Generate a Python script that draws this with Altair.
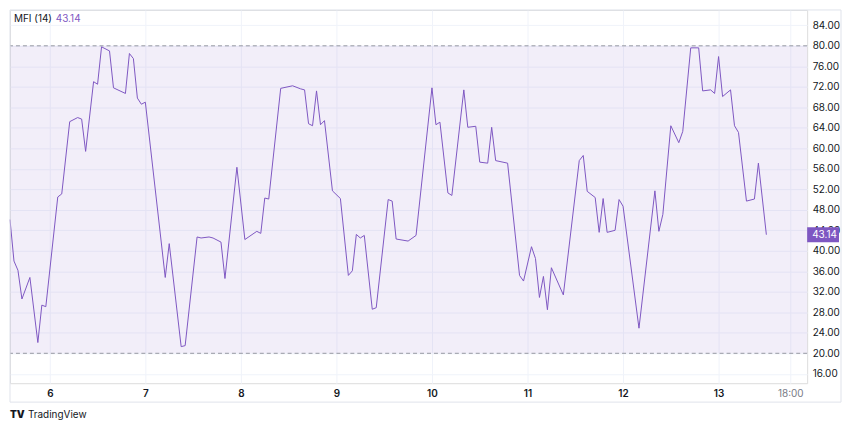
import altair as alt
import pandas as pd

# Hours since day 6 00:00 (hourly bars), and MFI(14) values
hours = [-10, -9, -8, -7, -5, -3, -2, -1, 2, 3, 5, 7, 8, 9, 11, 12, 13, 15, 16, 19,
         20, 21, 22, 23, 24, 29, 30, 33, 34, 37, 38, 40, 41, 43, 44, 47, 49, 52, 53, 54,
         55, 58, 61, 63, 64, 65, 66, 67, 68, 69, 71, 73, 75, 76, 77, 78, 79, 81, 82, 85,
         86, 87, 90, 92, 96, 97, 98, 100, 101, 104, 105, 107, 108, 110, 111, 112, 115, 118, 119, 121,
         122, 123, 124, 125, 126, 129, 133, 134, 135, 137, 138, 139, 140, 142, 143, 144, 148, 152, 153, 154,
         156, 158, 159, 161, 163, 164, 166, 167, 168, 169, 171, 172, 173, 175, 177, 178, 180]
mfi = [46.1, 38.0, 36.2, 30.6, 34.8, 22.1, 29.4, 29.1, 50.5, 51.1, 65.2, 66.0, 65.7, 59.4, 73.0, 72.5, 79.8, 79.0, 71.8, 70.7,
       78.5, 77.5, 69.8, 68.6, 69.0, 34.8, 41.4, 21.3, 21.5, 42.7, 42.5, 42.7, 42.5, 41.7, 34.6, 56.3, 42.2, 43.8, 43.4, 50.3,
       50.1, 71.7, 72.2, 71.6, 71.4, 64.8, 64.4, 71.2, 64.6, 65.4, 51.7, 50.2, 35.2, 36.1, 43.2, 42.5, 43.0, 28.6, 28.9, 50.0,
       49.7, 42.3, 41.9, 43.0, 71.8, 64.6, 65.1, 51.3, 50.8, 71.4, 64.1, 64.3, 57.3, 57.1, 64.1, 57.6, 57.1, 35.2, 34.1, 40.8,
       38.5, 30.9, 35.0, 28.5, 36.7, 31.4, 57.6, 58.6, 51.6, 50.4, 43.6, 50.2, 43.6, 44.0, 50.0, 48.7, 24.9, 51.7, 43.8, 47.1,
       64.4, 61.1, 63.3, 79.6, 79.6, 71.2, 71.4, 70.7, 77.9, 70.1, 71.4, 64.4, 63.1, 49.7, 50.1, 57.1, 43.14]

x_ticks = [0, 24, 48, 72, 96, 120, 144, 168, 186]
y_ticks = [16, 20, 24, 28, 32, 36, 40, 44, 48, 52, 56, 60, 64, 68, 72, 76, 80, 84]
band = [20, 80]
x_domain = [-10, 190.25]
y_domain = [14.17, 86.99]

FONT = "Inter"
PURPLE = "#7e57c2"
GRID = "#f0f3fa"
W, H = 801, 375

df = pd.DataFrame({"h": hours, "mfi": mfi})
last = pd.DataFrame({"h": [hours[-1]], "mfi": [mfi[-1]],
                     "lo": [mfi[-1] - 1.45], "hi": [mfi[-1] + 1.45]})
levels = pd.DataFrame({"level": band})
band_df = pd.DataFrame({"x0": [x_domain[0]], "x1": [x_domain[1]], "lo": [band[0]], "hi": [band[1]]})

xscale = alt.Scale(domain=x_domain, nice=False, zero=False)
yscale = alt.Scale(domain=y_domain, nice=False, zero=False)

xaxis = alt.Axis(
    values=x_ticks, title=None, grid=True, gridColor=GRID, gridWidth=1,
    domain=False, ticks=False, tickSize=0, labelPadding=5, labelOverlap=False,
    labelExpr="datum.value == 186 ? '18:00' : toString(6 + datum.value / 24)",
    labelColor=alt.ExprRef(expr="datum.value == 186 ? '#787b86' : '#131722'"),
    labelFontWeight=alt.ExprRef(expr="datum.value == 186 ? 400 : 600"),
    labelFont=FONT, labelFontSize=10,
)
yaxis = alt.Axis(
    values=y_ticks, orient="right", format=".2f", title=None, grid=True,
    gridColor=GRID, gridWidth=1, domain=False, ticks=False, tickSize=0,
    labelPadding=5, labelOverlap=False, labelColor="#131722", labelFont=FONT,
    labelFontSize=10, labelBound=False,
)

band_rect = alt.Chart(band_df).mark_rect(color=PURPLE, opacity=0.1).encode(
    x=alt.X("x0:Q", scale=xscale, axis=xaxis),
    x2="x1:Q",
    y=alt.Y("lo:Q", scale=yscale, axis=yaxis),
    y2="hi:Q",
)

dashed = alt.Chart(levels).mark_rule(color="#9598a1", strokeDash=[4, 3], strokeWidth=1).encode(
    y=alt.Y("level:Q", scale=yscale, axis=yaxis)
)

line = alt.Chart(df).mark_line(color=PURPLE, strokeWidth=1).encode(
    x=alt.X("h:Q", scale=xscale, axis=xaxis),
    y=alt.Y("mfi:Q", scale=yscale, axis=yaxis),
)

badge = alt.Chart(last).mark_rect(color=PURPLE).encode(
    y=alt.Y("lo:Q", scale=yscale, axis=yaxis), y2="hi:Q",
    x=alt.value(W), x2=alt.value(W + 32),
)
badge_text = alt.Chart(last).mark_text(
    color="white", align="left", baseline="middle", font=FONT, fontSize=10
).encode(
    y=alt.Y("mfi:Q", scale=yscale, axis=yaxis), x=alt.value(W + 5),
    text=alt.Text("mfi:Q", format=".2f"),
)

title_a = alt.Chart(last).mark_text(
    color="#131722", align="left", baseline="middle", font=FONT, fontSize=10
).encode(x=alt.value(4), y=alt.value(9), text=alt.value("MFI (14)"))
title_b = alt.Chart(last).mark_text(
    color=PURPLE, align="left", baseline="middle", font=FONT, fontSize=10
).encode(x=alt.value(46), y=alt.value(9), text=alt.Text("mfi:Q", format=".2f"))

logo_mark = alt.Chart(last).mark_text(
    color="#131722", align="left", baseline="middle", font=FONT, fontSize=10, fontWeight=900
).encode(x=alt.value(0), y=alt.value(407), text=alt.value("TV"))
logo_text = alt.Chart(last).mark_text(
    color="#131722", align="left", baseline="middle", font=FONT, fontSize=10
).encode(x=alt.value(18), y=alt.value(407), text=alt.value("TradingView"))

BORDER = "#e0e3eb"
border_top = alt.Chart(last).mark_rule(color=BORDER).encode(
    x=alt.value(0), x2=alt.value(835), y=alt.value(0))
border_bottom = alt.Chart(last).mark_rule(color=BORDER).encode(
    x=alt.value(0), x2=alt.value(835), y=alt.value(394))
border_left = alt.Chart(last).mark_rule(color=BORDER).encode(
    x=alt.value(0), y=alt.value(0), y2=alt.value(394))
border_right = alt.Chart(last).mark_rule(color=BORDER).encode(
    x=alt.value(835), y=alt.value(0), y2=alt.value(394))

chart = alt.layer(
    band_rect, dashed, line, badge, badge_text, title_a, title_b,
    logo_mark, logo_text, border_top, border_bottom, border_left, border_right,
).properties(
    width=W, height=H, padding=0,
).configure_view(stroke=None).configure_axis(labelOverlap=False).configure(background="white")

chart.save("out.html", embed_options={"renderer": "svg", "actions": False})
